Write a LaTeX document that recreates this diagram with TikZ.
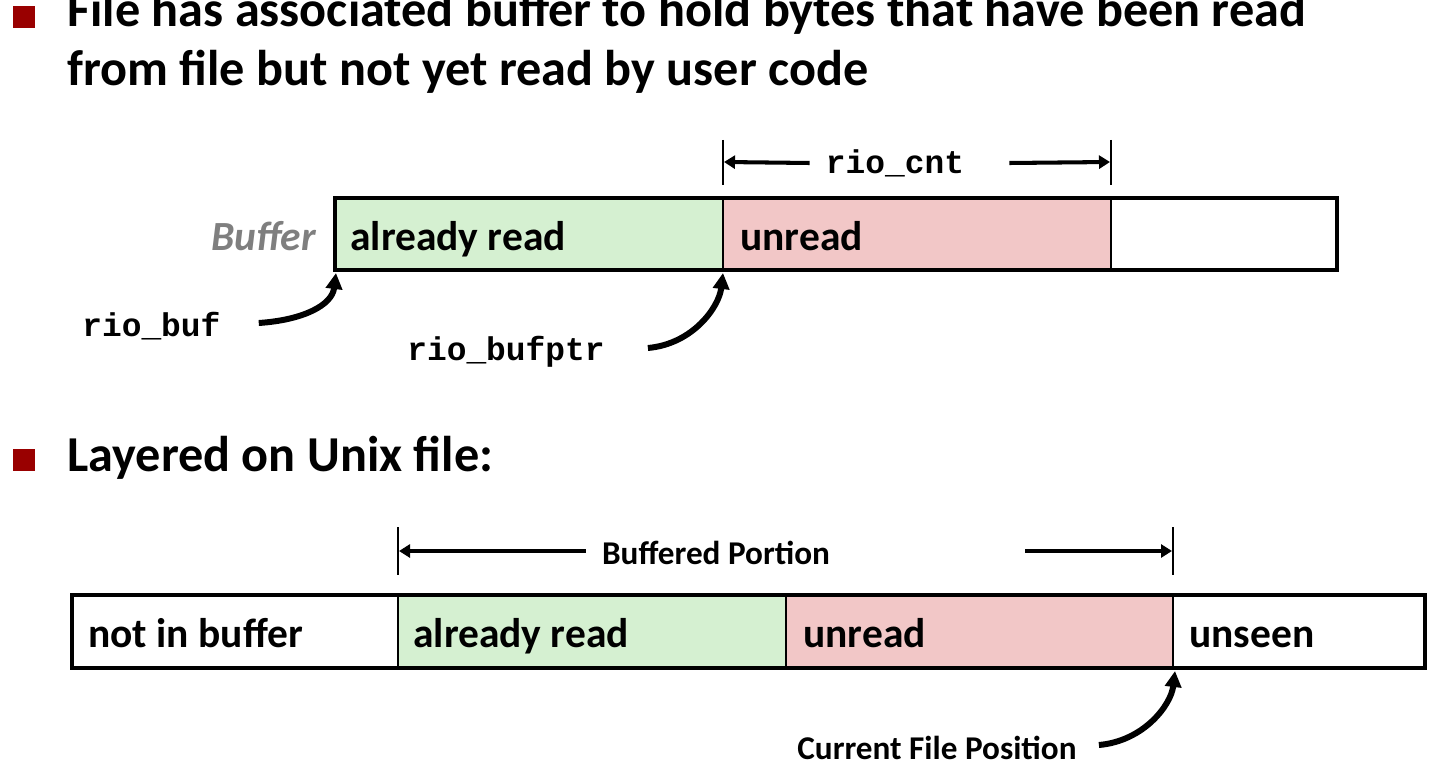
\documentclass[tikz,border=0pt]{standalone}
\usepackage{fontspec}
\setmainfont{Carlito}
\newfontfamily\codefont{Liberation Mono}
\usetikzlibrary{arrows.meta,positioning,calc}

\definecolor{readgreen}{HTML}{D5F0D1}
\definecolor{unreadpink}{HTML}{F2C7C7}
\definecolor{bulletred}{HTML}{990000}
\definecolor{titlegray}{HTML}{7F7F7F}

\begin{document}
\begin{tikzpicture}
[
	x	= 0.2mm,	% one unit is one pixel of the slide
	y	= -0.2mm,	% y grows downward, as on the slide
	bullet/.style	= {fill=bulletred, minimum size=4.4mm, inner sep=0pt},
	heading/.style	= {anchor=base west, inner sep=0pt, font=\fontsize{28.6}{34}\selectfont\bfseries},
	seglabel/.style	= {anchor=base west, inner sep=0pt, font=\fontsize{23.6}{28}\selectfont\bfseries},
	codelabel/.style	= {inner sep=0pt, font=\fontsize{18.7}{22}\selectfont\codefont\bfseries},
	smalllabel/.style	= {inner sep=0pt, font=\fontsize{18.9}{22}\selectfont\bfseries},
	boxline/.style	= {draw=black, line width=2.4pt},
	segline/.style	= {draw=black, line width=1.2pt},
	tick/.style	= {draw=black, line width=1.1pt},
	dimarrow/.style	= {-{Triangle[length=2.2mm, width=2.6mm]}, line width=2.3pt},
	pointer/.style	= {-{Triangle[length=3.2mm, width=3.2mm]}, line width=3.4pt},
]

\useasboundingbox (0,0) rectangle (1440,772);
\clip (0,0) rectangle (1440,772);

% first bullet
\node [bullet] (bulletA) at (24,17) {};
\node [heading] (headA1) at (67,27) {File has associated buffer to hold bytes that have been read};
\node [heading] (headA2) at (67,86) {from file but not yet read by user code};

% the buffer
\fill [readgreen]  (335,198) rectangle (723,270);
\fill [unreadpink] (723,198) rectangle (1111,270);
\draw [segline] (723,198) -- (723,270);
\draw [segline] (1111,198) -- (1111,270);
\draw [boxline] (335,198) rectangle (1337,270);

\node [seglabel] (bufread)   at (350,250) {already read};
\node [seglabel] (bufunread) at (740,250) {unread};
\node [seglabel, anchor=base east, color=titlegray, font=\fontsize{23.6}{28}\selectfont\bfseries\itshape] (buftitle) at (316,250) {Buffer};

% rio_cnt span
\draw [tick] (723,140) -- (723,185);
\draw [tick] (1111,140) -- (1111,185);
\coordinate (cntleft)  at (724,162);
\coordinate (cntright) at (1110,162);
\node [codelabel] (riocnt) at (895,163) {rio\_cnt};
\draw [dimarrow] ($(riocnt.west)+(-16,0)$) -- (cntleft);
\draw [dimarrow] ($(riocnt.east)+(45,0)$) -- (cntright);

% pointers into the buffer
\coordinate (bufbase) at (336,273);
\coordinate (bufptr)  at (723,273);
\node [codelabel, anchor=west] (riobuf)    at (82,326)  {rio\_buf};
\node [codelabel, anchor=west] (riobufptr) at (407,352) {rio\_bufptr};
\draw [pointer] ($(riobuf.east)+(38,-3)$) .. controls +(45,-3) and +(-4,32) .. (bufbase);
\draw [pointer] ($(riobufptr.east)+(43,-4)$) .. controls +(45,-4) and +(-4,34) .. (bufptr);

% second bullet
\node [bullet] (bulletB) at (24,460) {};
\node [heading] (headB) at (67,471) {Layered on Unix file:};

% the Unix file
\fill [readgreen]  (398,595) rectangle (786,668);
\fill [unreadpink] (786,595) rectangle (1173,668);
\draw [segline] (398,595) -- (398,668);
\draw [segline] (786,595) -- (786,668);
\draw [segline] (1173,595) -- (1173,668);
\draw [boxline] (72,595) rectangle (1425,668);

\node [seglabel] (filenot)    at (88,647)   {not in buffer};
\node [seglabel] (fileread)   at (413,647)  {already read};
\node [seglabel] (fileunread) at (803,647)  {unread};
\node [seglabel] (fileunseen) at (1189,647) {unseen};

% buffered portion span
\draw [tick] (398,527) -- (398,575);
\draw [tick] (1173,527) -- (1173,575);
\coordinate (portleft)  at (399,551);
\coordinate (portright) at (1172,551);
\node [smalllabel] (portion) at (716,553) {Buffered Portion};
\draw [dimarrow] ($(portion.west)+(-16,-2)$) -- (portleft);
\draw [dimarrow] ($(portion.east)+(195,-2)$) -- (portright);

% file position
\coordinate (filepos) at (1175,671);
\node [smalllabel, anchor=west] (curpos) at (797,748) {Current File Position};
\draw [pointer] ($(curpos.east)+(22,-3)$) .. controls +(45,-4) and +(-4,34) .. (filepos);

\end{tikzpicture}
\end{document}
